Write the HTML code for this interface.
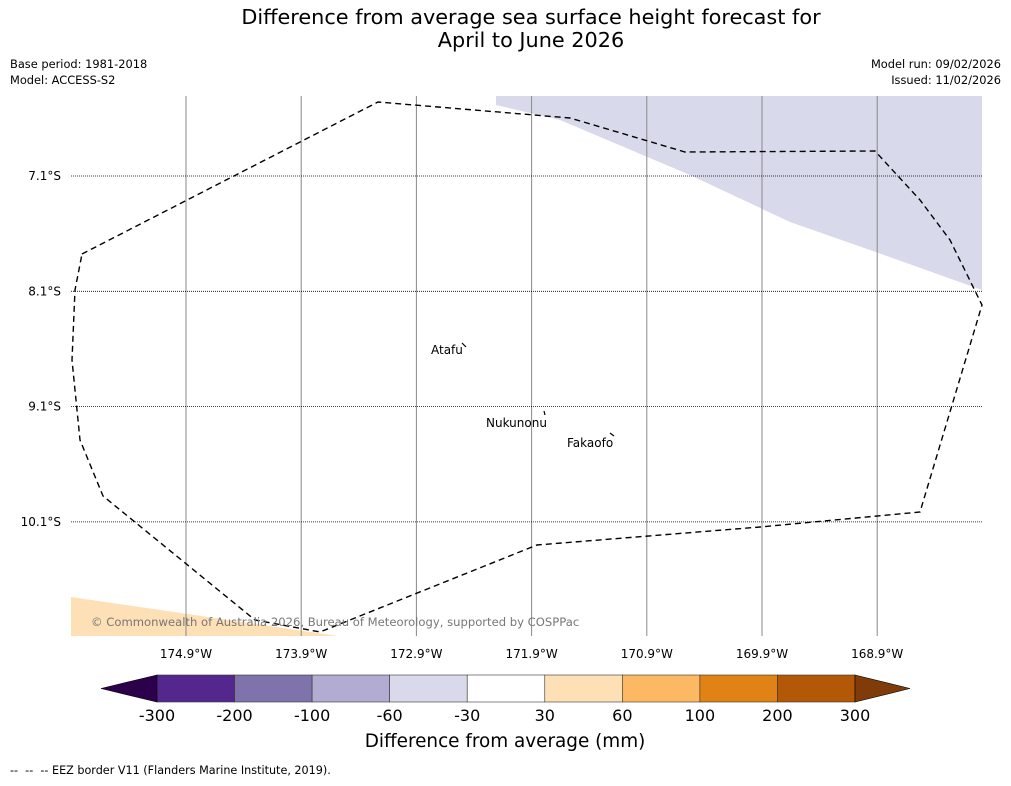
<!DOCTYPE html>
<html><head><meta charset="utf-8"><style>
body{margin:0;background:#fff;font-family:"Liberation Sans","DejaVu Sans",sans-serif}
svg text{font-family:"DejaVu Sans","Liberation Sans",sans-serif}
</style></head><body>
<svg width="1011" height="781" viewBox="0 0 1011 781">
<text x="531" y="24" font-size="20.8" text-anchor="middle">Difference from average sea surface height forecast for</text>
<text x="531" y="47" font-size="20.8" text-anchor="middle">April to June 2026</text>
<text x="10" y="68" font-size="11.4">Base period: 1981-2018</text>
<text x="10" y="84" font-size="11.4">Model: ACCESS-S2</text>
<text x="1001" y="68" font-size="11.4" text-anchor="end">Model run: 09/02/2026</text>
<text x="1001" y="84" font-size="11.4" text-anchor="end">Issued: 11/02/2026</text>
<g>
<polygon points="496,96 982,96 982,290 870,250 790,222 690,175 560,120 496,105" fill="#d8daeb"/>
<polygon points="71,597 338,636 71,636" fill="#fee0b6"/>
<g id="grid"></g>
<polyline points="82,254 378,102 570,118 685,152 875,151 920,200 950,240 982,305 920,512 760,527 537,545 320,632 255,620 103,496 80,440 72,360 75,290 82,254" fill="none" stroke="#000" stroke-width="1.4" stroke-dasharray="6,4"/>
<text x="431" y="354" font-size="12">Atafu</text>
<text x="486" y="427" font-size="12">Nukunonu</text>
<text x="567" y="447" font-size="12">Fakaofo</text>
<path d="M462,343 l4,4 M544,411 l1,4 M610,433 l4,3" stroke="#000" stroke-width="1.2"/>
<text x="91" y="626" font-size="11.6" fill="#777">© Commonwealth of Australia 2026, Bureau of Meteorology, supported by COSPPac</text>
</g>
<g id="cbar"></g>
<text x="505" y="747" font-size="18.4" text-anchor="middle">Difference from average (mm)</text>
<text x="10" y="774" font-size="11.2" style="white-space:pre">--  --  -- EEZ border V11 (Flanders Marine Institute, 2019).</text>
</svg>
<script>
const lonLabels=["174.9°W","173.9°W","172.9°W","171.9°W","170.9°W","169.9°W","168.9°W"];
const lonValues=[-174.9,-173.9,-172.9,-171.9,-170.9,-169.9,-168.9];
const latLabels=["7.1°S","8.1°S","9.1°S","10.1°S"];
const latValues=[-7.1,-8.1,-9.1,-10.1];
const cbLevels=[-300,-200,-100,-60,-30,30,60,100,200,300];
const cbColors=["#54278f","#8073ac","#b2abd2","#d8daeb","#ffffff","#fee0b6","#fdb863","#e08214","#b35806"];
const NS="http://www.w3.org/2000/svg";
function xLon(v){return 186+(v+174.9)*115.2;}
function yLat(v){return 176-(v+7.1)*115.3;}
function mk(t,a,p){const e=document.createElementNS(NS,t);for(const k in a)e.setAttribute(k,a[k]);p.appendChild(e);return e;}
const g=document.getElementById('grid');
lonValues.forEach((v,i)=>{const x=xLon(v);
 const l=mk('line',{x1:x,x2:x,y1:96,y2:636,stroke:'#888','stroke-width':1},g);
 
 
 const t=mk('text',{x:x,y:658,'font-size':12,'text-anchor':'middle'},g);t.textContent=lonLabels[i];
 
 });
latValues.forEach((v,i)=>{const y=yLat(v);
 const l=mk('line',{x1:71,x2:982,y1:y,y2:y,stroke:'#000','stroke-width':0.8,'stroke-dasharray':'1,1'},g);
 
 
 const t=mk('text',{x:61,y:y+4,'font-size':12,'text-anchor':'end'},g);t.textContent=latLabels[i];
 
 });
const c=document.getElementById('cbar');
const x0=157,x1=855,n=cbColors.length,w=(x1-x0)/n,y0=675,h=27;
cbColors.forEach((col,i)=>{const r=mk('rect',{x:x0+i*w,y:y0,width:w,height:h,fill:col,stroke:'#333','stroke-width':0.6},c);
 
 });
const la=mk('polygon',{points:`${x0},${y0} 101,${y0+h/2} ${x0},${y0+h}`,fill:'#2d004b',stroke:'#000','stroke-width':0.6},c);


const ra=mk('polygon',{points:`${x1},${y0} 910,${y0+h/2} ${x1},${y0+h}`,fill:'#7f3b08',stroke:'#000','stroke-width':0.6},c);


cbLevels.forEach((v,i)=>{const t=mk('text',{x:x0+i*w,y:721,'font-size':16,'text-anchor':'middle'},c);t.textContent=v;
 
 });
</script>
</body></html>
